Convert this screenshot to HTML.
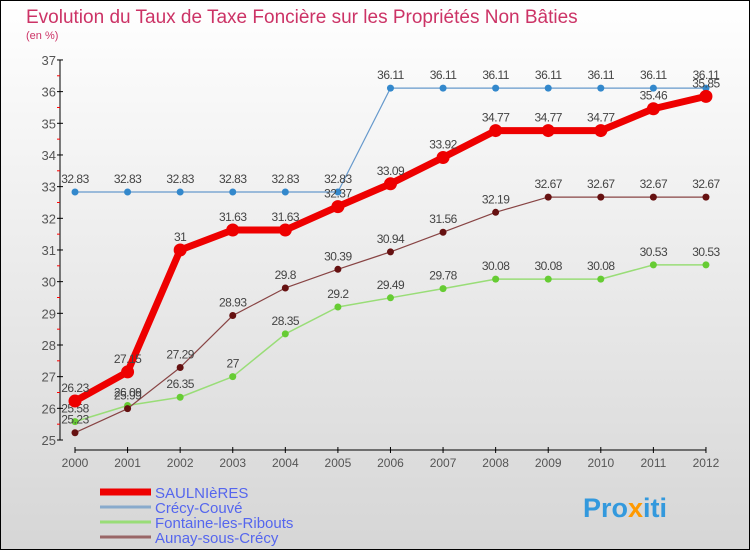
<!DOCTYPE html>
<html><head><meta charset="utf-8"><style>
body{margin:0;width:750px;height:550px;overflow:hidden}
svg{display:block;font-family:"Liberation Sans",sans-serif}
</style></head><body>
<svg id="c" width="750" height="550">
<defs><linearGradient id="bg" x1="0" y1="0" x2="0" y2="1"><stop offset="0" stop-color="#ffffff"/><stop offset="1" stop-color="#d6d6d6"/></linearGradient></defs>
<rect x="0.5" y="0.5" width="749" height="549" fill="url(#bg)" stroke="#000"/>
<text x="26" y="23" font-size="19" fill="#cc3366">Evolution du Taux de Taxe Foncière sur les Propriétés Non Bâties</text>
<text x="26" y="39" font-size="11" fill="#cc3366">(en %)</text>
<g id="axes"></g><g id="series"></g><g id="legend"></g>
<text x="583" y="517" font-size="27" font-weight="bold" fill="#3399dd">Pro<tspan fill="#ff9900">x</tspan>iti</text>
</svg>
<script>
const years=["2000","2001","2002","2003","2004","2005","2006","2007","2008","2009","2010","2011","2012"];
const yTicks=[25,26,27,28,29,30,31,32,33,34,35,36,37];
const saulnieres=[26.23,27.15,31,31.63,31.63,32.37,33.09,33.92,34.77,34.77,34.77,35.46,35.85];
const crecy=[32.83,32.83,32.83,32.83,32.83,32.83,36.11,36.11,36.11,36.11,36.11,36.11,36.11];
const fontaine=[25.58,26.09,26.35,27,28.35,29.2,29.49,29.78,30.08,30.08,30.08,30.53,30.53];
const aunay=[25.23,25.99,27.29,28.93,29.8,30.39,30.94,31.56,32.19,32.67,32.67,32.67,32.67];
const names=["SAULNIèRES","Crécy-Couvé","Fontaine-les-Ribouts","Aunay-sous-Crécy"];
const NS="http://www.w3.org/2000/svg";
const X=i=>75+i*52.58, Y=v=>440-(v-25)*31.67;
function mk(p,t,a){const e=document.createElementNS(NS,t);for(const k in a)e.setAttribute(k,a[k]);p.appendChild(e);return e;}
const ax=document.getElementById('axes');
let l=mk(ax,'line',{x1:60,y1:60,x2:60,y2:440,stroke:'#000'});

l=mk(ax,'line',{x1:75,y1:450,x2:706,y2:450,stroke:'#000'});

yTicks.forEach((v,i)=>{mk(ax,'line',{x1:57,y1:Y(v),x2:63,y2:Y(v),stroke:'#000'});
 if(i<yTicks.length-1)mk(ax,'line',{x1:57,y1:Y(v+0.5),x2:60,y2:Y(v+0.5),stroke:'#f00'});
 const t=mk(ax,'text',{x:56,y:Y(v)+5,'font-size':13,fill:'#555','text-anchor':'end'});t.textContent=v;
 });
years.forEach((y,i)=>{mk(ax,'line',{x1:X(i),y1:447,x2:X(i),y2:453,stroke:'#000'});
 const t=mk(ax,'text',{x:X(i),y:467,'font-size':12,fill:'#555','text-anchor':'middle'});t.textContent=y;
 });
const sg=document.getElementById('series');
const defs=[[crecy,'#6699cc',1.2,3.5,'#3388cc','crecy'],[fontaine,'#99dd77',1.5,3.5,'#66cc33','fontaine'],[aunay,'#884444',1.2,3.5,'#661111','aunay'],[saulnieres,'#ee0000',7,6.5,'#ee0000','saulnieres']];
defs.forEach(([d,c,w,r,mc,n])=>{
 const p=mk(sg,'polyline',{points:d.map((v,i)=>X(i)+','+Y(v)).join(' '),fill:'none',stroke:c,'stroke-width':w,'stroke-linejoin':'round'});
 
 d.forEach((v,i)=>{const m=mk(sg,'circle',{cx:X(i),cy:Y(v),r:r,fill:mc});
  
  const t=mk(sg,'text',{x:X(i),y:Y(v)-9,'font-size':12,fill:'#444','text-anchor':'middle','letter-spacing':'-0.5'});t.textContent=v;
  });
});
const lg=document.getElementById('legend');
const lc=['#ee0000','#88aacc','#99dd77','#996666'],lw=[7,3,3,3],ly=[492,507,522,537];
names.forEach((nm,i)=>{mk(lg,'line',{x1:100,y1:ly[i],x2:151,y2:ly[i],stroke:lc[i],'stroke-width':lw[i]});
 const t=mk(lg,'text',{x:155,y:ly[i]+6,'font-size':15,fill:'#5566ee'});t.textContent=nm;
 });
</script>
</body></html>
